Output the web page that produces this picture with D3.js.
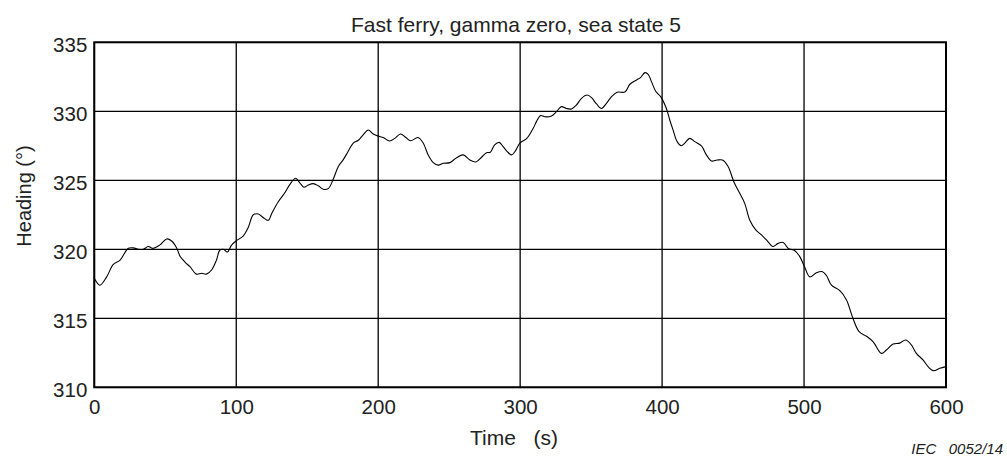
<!DOCTYPE html>
<html>
<head>
<meta charset="utf-8">
<script src="https://cdn.jsdelivr.net/npm/d3@7"></script>
<style>
  html, body { margin: 0; padding: 0; background: #fff; }
  svg { display: block; font-family: "Liberation Sans", Arial, sans-serif; }
</style>
</head>
<body>
<svg id="chart" width="1007" height="459"></svg>
<script>
const title = "Fast ferry, gamma zero, sea state 5";
const xLabel = "Time   (s)";
const yLabel = "Heading (°)";
const credit = "IEC   0052/14";
const xTicks = [0, 100, 200, 300, 400, 500, 600];
const yTicks = [310, 315, 320, 325, 330, 335];

const time = [0,4,8.7,13.4,18,24,27.5,31,34.5,38,41.5,46,51,54.5,58,60.4,64,67.4,72,75.6,79,82.6,86,88.5,90.9,93.7,96.7,99.8,
  105,108.5,112,115.5,119,122.6,125,129.6,134,137.8,141.8,144.9,147.7,150.7,154.2,157.8,161.3,164.8,168.3,171.9,175.4,178.9,182.4,186,189.4,193,196.5,
  200,203.5,208,211.7,215.7,219.5,222.8,228,231.7,235.2,238.8,242.3,245.8,250.5,255.2,259.9,264.6,268.8,272.8,276.3,279,282,285.2,288,290.9,294,296.8,
  299.8,304.7,309.2,311.5,314.4,317.4,322.1,325.6,329.1,332.6,336.2,339.7,343.2,347.2,350.3,353.8,357.3,360.8,364.4,368.3,373.8,377.3,382,384.8,387.9,390.2,392.5,395.6,
  399,403,405.4,407.7,410.6,413.6,416,419.5,423,427.7,431.2,434.8,438.8,442.5,446.5,450.5,454.7,458.2,461.8,466,470,473.5,478.2,481.7,485.3,488.8,493.5,497,
  500.5,504.1,508.7,513,515.8,519.3,525.2,529.9,534.1,538.8,544,548.7,554.5,558,562.7,567.4,571.6,575.6,579.1,583.8,588,591.3,595.6,600];
const heading = [317.9,317.4,318.0,318.9,319.2,320.07,320.1,320.0,320.0,320.2,320.07,320.3,320.75,320.6,320.1,319.5,319.06,318.74,318.2,318.26,318.2,318.5,319.2,319.95,320.0,319.8,320.3,320.6,
  320.97,321.6,322.5,322.56,322.3,322.1,322.6,323.45,324.06,324.7,325.15,324.8,324.5,324.66,324.76,324.6,324.35,324.4,325.07,326.0,326.5,327.1,327.7,327.9,328.3,328.65,328.36,
  328.2,328.1,327.85,328.04,328.36,328.1,327.87,328.1,327.7,326.84,326.28,326.1,326.23,326.28,326.64,326.84,326.47,326.33,326.67,327.0,327.03,327.56,327.75,327.44,327.08,326.84,327.15,
  327.7,328.04,328.77,329.25,329.69,329.6,329.66,329.98,330.34,330.2,330.17,330.46,330.94,331.18,330.99,330.53,330.2,330.58,331.06,331.38,331.4,331.96,332.27,332.44,332.8,332.68,332.15,331.43,
  331.06,330.2,329.37,328.65,327.8,327.5,327.7,328.04,327.8,327.5,326.84,326.4,326.47,326.47,326.0,324.9,324.06,323.33,322.1,321.4,321.04,320.68,320.2,320.43,320.5,320.07,319.9,319.47,
  318.7,318.0,318.3,318.38,318.1,317.4,317.0,316.33,315.1,314.03,313.7,313.3,312.46,312.7,313.14,313.2,313.43,313.07,312.46,311.98,311.42,311.2,311.38,311.5];

const svg = d3.select("#chart");
const L = 94.3, R = 946, T = 42.3, B = 387.3;
const x = d3.scaleLinear().domain([0, 600]).range([L, R]);
const y = d3.scaleLinear().domain([310, 335]).range([B, T]);
const textColor = "#222";

// grid
const grid = svg.append("g");
grid.selectAll("line.v").data(xTicks).join("line")
  .attr("x1", d => x(d)).attr("x2", d => x(d)).attr("y1", T).attr("y2", B)
  .attr("stroke", "#000").attr("stroke-width", 1.3);
grid.selectAll("line.h").data(yTicks).join("line")
  .attr("x1", L).attr("x2", R).attr("y1", d => y(d)).attr("y2", d => y(d))
  .attr("stroke", "#000").attr("stroke-width", 1.3);

// frame
svg.append("rect").attr("x", L).attr("y", T).attr("width", R - L).attr("height", B - T)
  .attr("fill", "none").attr("stroke", "#000").attr("stroke-width", 2);

// axes (labels only)
const xAxis = svg.append("g").attr("transform", `translate(0,${B})`)
  .call(d3.axisBottom(x).tickValues(xTicks).tickSize(0).tickPadding(9).tickFormat(d3.format("d")));
const yAxis = svg.append("g").attr("transform", `translate(${L},0)`)
  .call(d3.axisLeft(y).tickValues(yTicks).tickSize(0).tickPadding(7).tickFormat(d3.format("d")));
[xAxis, yAxis].forEach(a => {
  a.select(".domain").remove();
  a.selectAll("text").attr("fill", textColor).style("font-size", "20.5px")
    .style("font-family", "'Liberation Sans', Arial, sans-serif");
});
yAxis.selectAll("text").attr("dy", "0.45em");
xAxis.selectAll("text").attr("dy", "0.85em");

// line
const line = d3.line().x((d, i) => x(time[i])).y(d => y(d)).curve(d3.curveCatmullRom.alpha(0.5));
svg.append("path").attr("d", line(heading)).attr("fill", "none")
  .attr("stroke", "#000").attr("stroke-width", 1.1);

// texts
svg.append("text").attr("x", 516).attr("y", 32).attr("text-anchor", "middle")
  .attr("fill", textColor).style("font-size", "21px").text(title);
svg.append("text").attr("x", 514).attr("y", 445).attr("text-anchor", "middle")
  .attr("fill", textColor).style("font-size", "21px").style("white-space", "pre")
  .attr("xml:space", "preserve").text(xLabel);
svg.append("text").attr("transform", "translate(31,196) rotate(-90)").attr("text-anchor", "middle")
  .attr("fill", textColor).style("font-size", "20px").text(yLabel);
svg.append("text").attr("x", 1003).attr("y", 454).attr("text-anchor", "end")
  .attr("fill", textColor).style("font-size", "15px").style("font-style", "italic")
  .style("white-space", "pre").attr("xml:space", "preserve").text(credit);
</script>
</body>
</html>
